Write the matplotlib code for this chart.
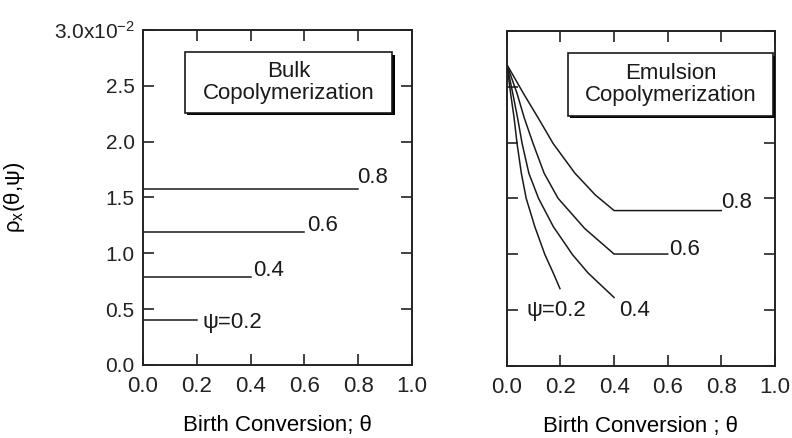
import matplotlib
matplotlib.use('Agg')
import matplotlib.pyplot as plt
from matplotlib.patches import Rectangle
import matplotlib.patheffects as pe

plt.rcParams['font.family'] = ['Liberation Sans', 'DejaVu Sans']
plt.rcParams['mathtext.fontset'] = 'custom'
plt.rcParams['mathtext.rm'] = 'Liberation Sans'
plt.rcParams['mathtext.it'] = 'Liberation Sans:italic'
plt.rcParams['mathtext.default'] = 'regular'

# ---- data (rho in units of 1e-2) ----
psi = [0.2, 0.4, 0.6, 0.8]
bulk_rho = [0.40, 0.79, 1.19, 1.58]
bulk_labels = ['ψ=0.2', '0.4', '0.6', '0.8']

emul_theta_02 = [0.0, 0.014, 0.027, 0.038, 0.054, 0.072, 0.104, 0.142, 0.173, 0.198]
emul_rho_02 = [2.70, 2.44, 2.22, 1.99, 1.725, 1.50, 1.247, 0.994, 0.83, 0.69]
emul_theta_04 = [0.0, 0.022, 0.040, 0.057, 0.082, 0.118, 0.173, 0.245, 0.303, 0.40]
emul_rho_04 = [2.70, 2.44, 2.22, 1.99, 1.725, 1.50, 1.247, 0.994, 0.83, 0.61]
emul_theta_06 = [0.0, 0.038, 0.065, 0.098, 0.139, 0.191, 0.29, 0.40, 0.60]
emul_rho_06 = [2.70, 2.44, 2.22, 1.99, 1.725, 1.50, 1.23, 1.00, 1.00]
emul_theta_08 = [0.0, 0.062, 0.117, 0.173, 0.254, 0.330, 0.40, 0.80]
emul_rho_08 = [2.70, 2.44, 2.22, 1.99, 1.725, 1.53, 1.39, 1.39]
emul_labels = ['ψ=0.2', '0.4', '0.6', '0.8']

x_ticks = [0.0, 0.2, 0.4, 0.6, 0.8, 1.0]
x_ticklabels = ['0.0', '0.2', '0.4', '0.6', '0.8', '1.0']
y_ticks = [0.0, 0.5, 1.0, 1.5, 2.0, 2.5, 3.0]
y_ticklabels = ['0.0', '0.5', '1.0', '1.5', '2.0', '2.5', '3.0x10$^{-2}$']

xlabel_left = 'Birth Conversion; θ'
xlabel_right = 'Birth Conversion ; θ'
ylabel = r'$\rho_x$(θ,ψ)'
box_left = 'Bulk\nCopolymerization'
box_right = 'Emulsion\nCopolymerization'

# ---- figure ----
fig = plt.figure(figsize=(7.92, 4.38), dpi=100)
axL = fig.add_axes([0.1806, 0.1667, 0.3396, 0.7648])
axR = fig.add_axes([0.6400, 0.1655, 0.3384, 0.7635])

for ax in (axL, axR):
    ax.set_xlim(0, 1)
    ax.set_ylim(0, 3)
    ax.set_xticks(x_ticks)
    ax.set_xticklabels(x_ticklabels, fontsize=16)
    ax.set_yticks(y_ticks)
    ax.tick_params(direction='in', length=8, width=1.2, top=True, right=True,
                   colors='#222222')
    ax.tick_params(axis='x', pad=8)
    ax.tick_params(axis='y', pad=6)
    for s in ax.spines.values():
        s.set_linewidth(1.4)
        s.set_color('#222222')

axL.set_yticklabels(y_ticklabels, fontsize=15)
axR.set_yticklabels([])

axL.set_xlabel(xlabel_left, fontsize=16)
axL.xaxis.set_label_coords(0.5, -0.15)
axR.set_xlabel(xlabel_right, fontsize=16)
axR.xaxis.set_label_coords(0.5, -0.15)
axL.set_ylabel(ylabel, fontsize=16)
axL.yaxis.set_label_coords(-0.43, 0.5)

lc = '#1a1a1a'
lw = 1.1
# Bulk lines
for p, r in zip(psi, bulk_rho):
    axL.plot([0, p], [r, r], color=lc, lw=lw)

bulk_label_pos = [(0.22, 0.33), (0.41, 0.80), (0.61, 1.20), (0.795, 1.63)]
for lab, (x, y) in zip(bulk_labels, bulk_label_pos):
    axL.text(x, y, lab, fontsize=16, ha='left', va='baseline', color=lc)

# Emulsion curves
for th, rh in [(emul_theta_02, emul_rho_02), (emul_theta_04, emul_rho_04),
               (emul_theta_06, emul_rho_06), (emul_theta_08, emul_rho_08)]:
    axR.plot(th, rh, color=lc, lw=lw, solid_joinstyle='round')

emul_label_pos = [(0.075, 0.44), (0.42, 0.44), (0.605, 0.99), (0.80, 1.415)]
for lab, (x, y) in zip(emul_labels, emul_label_pos):
    axR.text(x, y, lab, fontsize=16, ha='left', va='baseline', color=lc)

# Boxes
shadow = [pe.SimplePatchShadow(offset=(1.8, -1.8), shadow_rgbFace='black', alpha=1.0),
          pe.Normal()]
for ax, (x0, x1, y0, y1), txt in [(axL, (0.156, 0.926, 2.26, 2.80), box_left),
                                   (axR, (0.228, 0.993, 2.24, 2.80), box_right)]:
    rect = Rectangle((x0, y0), x1 - x0, y1 - y0, facecolor='white',
                     edgecolor='#1a1a1a', lw=1.2, zorder=5)
    rect.set_path_effects(shadow)
    ax.add_patch(rect)
    ax.text((x0 + x1) / 2, (y0 + y1) / 2, txt, fontsize=16, ha='center',
            va='center', linespacing=1.1, zorder=6, color=lc)

fig.savefig('out.png', dpi=100)
